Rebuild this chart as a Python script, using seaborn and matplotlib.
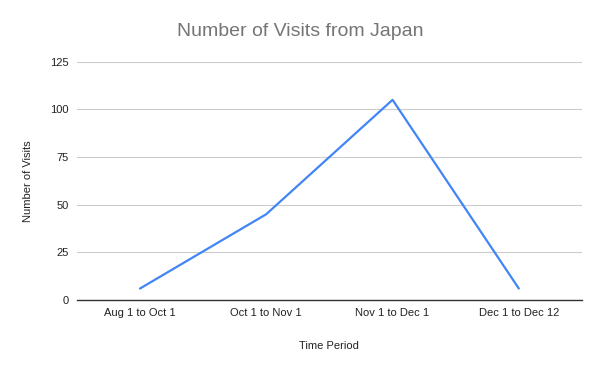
import matplotlib
matplotlib.use("Agg")
import matplotlib.pyplot as plt
import seaborn as sns
import pandas as pd

periods = ["Aug 1 to Oct 1", "Oct 1 to Nov 1", "Nov 1 to Dec 1", "Dec 1 to Dec 12"]
visits = [6, 45, 105, 6]
yticks = [0, 25, 50, 75, 100, 125]

df = pd.DataFrame({"Time Period": periods, "Number of Visits": visits})

sns.set_theme(style="white")
plt.rcParams["font.family"] = ["Liberation Sans", "DejaVu Sans"]

fig = plt.figure(figsize=(6, 3.71), dpi=100)
ax = fig.add_axes([0.128, 0.1914, 0.842, 0.6423])

sns.lineplot(data=df, x="Time Period", y="Number of Visits", ax=ax,
             color="#4285F4", linewidth=1.6, sort=False)

ax.set_xlim(-0.5, 3.5)
ax.set_ylim(0, 125)
ax.set_yticks(yticks)
ax.set_yticklabels([str(t) for t in yticks])
ax.grid(axis="y", color="#cccccc", linewidth=0.8)
ax.set_axisbelow(True)
for s in ["top", "right", "left"]:
    ax.spines[s].set_visible(False)
ax.spines["bottom"].set_color("#333333")
ax.spines["bottom"].set_linewidth(1.0)
ax.tick_params(axis="both", length=0, labelsize=8, colors="#222222", pad=6)

ax.set_xlabel("Time Period", fontsize=8, color="#222222", labelpad=16)
ax.set_ylabel("Number of Visits", fontsize=8, color="#222222", labelpad=12)
fig.suptitle("Number of Visits from Japan", fontsize=14, color="#757575", y=0.937)

fig.savefig("out.png", dpi=100)
